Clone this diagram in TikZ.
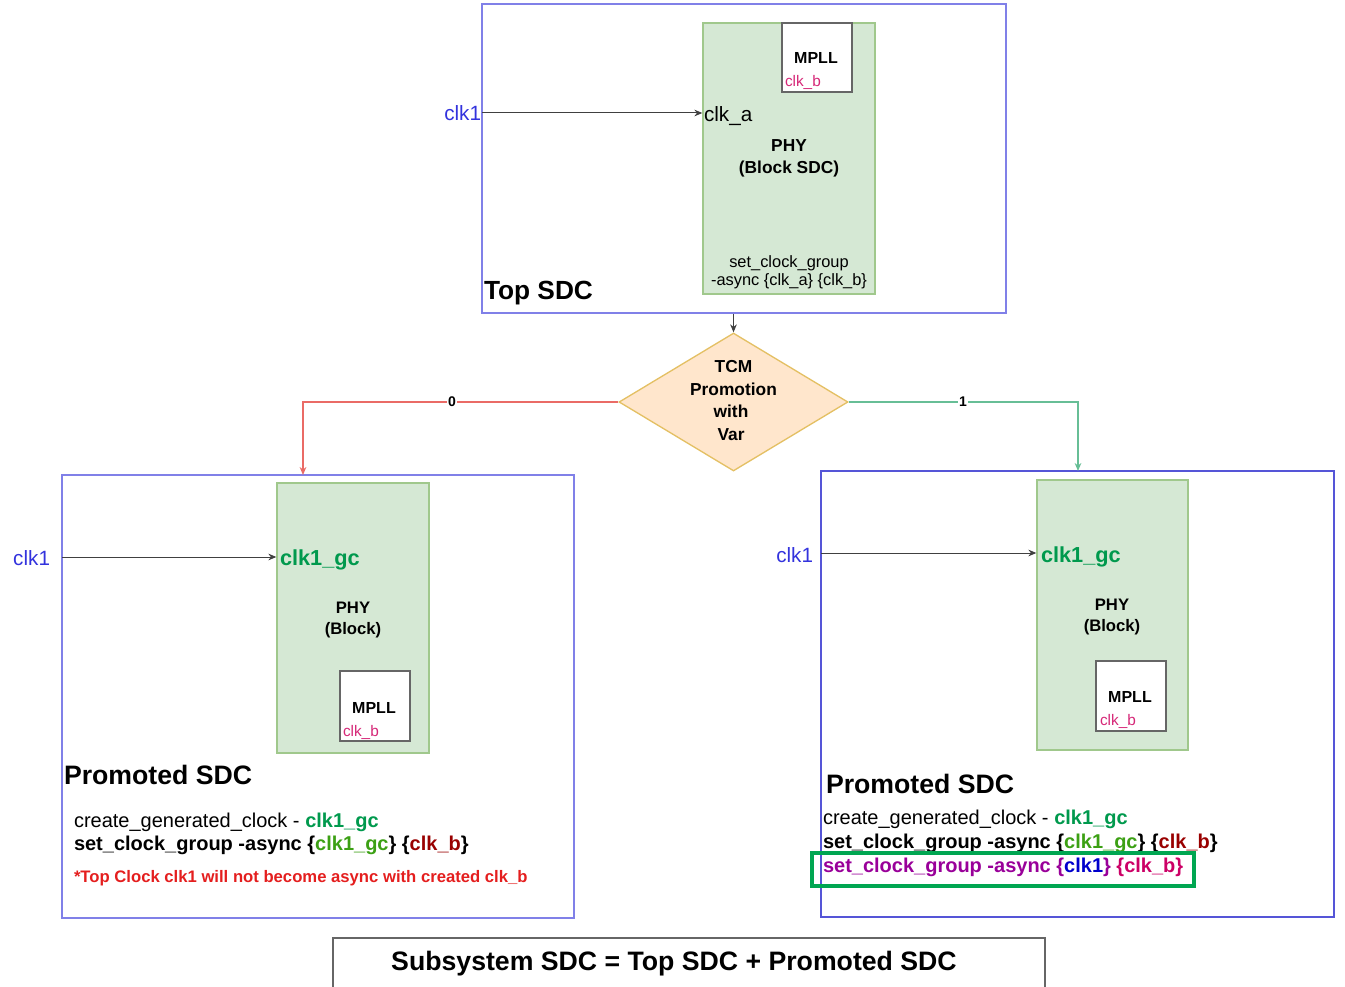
\documentclass[tikz,border=0pt]{standalone}
\usepackage{fontspec}
\setmainfont{Liberation Sans}
\usetikzlibrary{shapes.geometric,arrows.meta}

\definecolor{frameblue}{RGB}{128,128,232}
\definecolor{framebluedark}{RGB}{85,85,215}
\definecolor{phyfill}{RGB}{213,232,212}
\definecolor{phyline}{RGB}{160,200,140}
\definecolor{decfill}{RGB}{255,230,204}
\definecolor{decline}{RGB}{228,192,100}
\definecolor{clkblue}{RGB}{51,51,221}
\definecolor{clkpink}{RGB}{214,40,120}
\definecolor{gcgreen}{RGB}{0,153,77}
\definecolor{gclime}{RGB}{60,160,20}
\definecolor{darkred}{RGB}{153,0,0}
\definecolor{asyncpurple}{RGB}{153,0,153}
\definecolor{asyncblue}{RGB}{0,0,204}
\definecolor{asyncpink}{RGB}{204,0,102}
\definecolor{notered}{RGB}{228,30,30}
\definecolor{edgered}{RGB}{234,107,102}
\definecolor{edgegreen}{RGB}{103,190,150}
\definecolor{hilite}{RGB}{0,166,81}

\tikzset{
  sdcframe/.style={draw=frameblue, line width=1.2pt, rectangle, inner sep=0pt},
  phybox/.style={draw=phyline, fill=phyfill, line width=1pt, rectangle, inner sep=0pt},
  pllbox/.style={draw=black!60, fill=white, line width=1pt, rectangle, inner sep=0pt},
  txt/.style={inner sep=0pt, outer sep=0pt},
  wire/.style={draw=black!75, line width=0.75pt, -{Stealth[length=6pt,width=5pt]}},
  branchlbl/.style={txt, fill=white, inner sep=1pt, font=\bfseries\fontsize{10.5}{12}\selectfont},
}

\begin{document}
\begin{tikzpicture}[x=0.75pt, y=-0.75pt]
\useasboundingbox (0,0) rectangle (1345,987);

% ---------------- Top SDC ----------------
\node[sdcframe, minimum width=524*0.75pt, minimum height=309*0.75pt] (topsdc) at (744,158.5) {};
\node[phybox, minimum width=172*0.75pt, minimum height=271*0.75pt] (phyT) at (789,158.5) {};
\node[pllbox, minimum width=70*0.75pt, minimum height=69*0.75pt] (pllT) at (817,57.5) {};
\node[txt, anchor=base, font=\bfseries\fontsize{12}{14}\selectfont] (pllTt) at (816,64) {MPLL};
\node[txt, anchor=base west, text=clkpink, font=\fontsize{11.5}{14}\selectfont] (clkbT) at (785,87) {clk\_b};
\node[txt, anchor=base east, text=clkblue, font=\fontsize{15.5}{18}\selectfont] (clk1T) at (481,121) {clk1};
\node[txt, anchor=base west, font=\fontsize{15.5}{18}\selectfont] (clkaT) at (704,122) {clk\_a};
\node[txt, anchor=base, font=\bfseries\fontsize{13}{16}\selectfont] (phyTt1) at (789,152) {PHY};
\node[txt, anchor=base, font=\bfseries\fontsize{13}{16}\selectfont] (phyTt2) at (789,174) {(Block SDC)};
\node[txt, anchor=base, font=\fontsize{12.3}{14}\selectfont] (scgT1) at (789,268) {set\_clock\_group};
\node[txt, anchor=base, font=\fontsize{12.3}{14}\selectfont] (scgT2) at (789,286) {-async \{clk\_a\} \{clk\_b\}};
\node[txt, anchor=base west, font=\bfseries\fontsize{19.7}{22}\selectfont] (topT) at (484,300) {Top SDC};
\coordinate (inT) at (482,113);
\draw[wire] (inT) -- (inT -| phyT.west);

% ---------------- decision ----------------
\node[diamond, draw=decline, fill=decfill, line width=1pt, inner sep=0pt,
      minimum width=229*0.75pt, minimum height=138*0.75pt] (dec) at (733.5,402) {};
\node[txt, anchor=base, font=\bfseries\fontsize{13}{16}\selectfont] at (733.5,373) {TCM};
\node[txt, anchor=base, font=\bfseries\fontsize{13}{16}\selectfont] at (733.5,395) {Promotion};
\node[txt, anchor=base, font=\bfseries\fontsize{13}{16}\selectfont] at (731,417) {with};
\node[txt, anchor=base, font=\bfseries\fontsize{13}{16}\selectfont] at (731,440) {Var};
\draw[wire] (dec.north |- topsdc.south) -- (dec.north);

% ---------------- Promoted SDC, branch 0 ----------------
\node[sdcframe, minimum width=512*0.75pt, minimum height=443*0.75pt] (leftsdc) at (318,696.5) {};
\node[phybox, minimum width=152*0.75pt, minimum height=270*0.75pt] (phyL) at (353,618) {};
\node[pllbox, minimum width=70*0.75pt, minimum height=70*0.75pt] (pllL) at (375,706) {};
\node[txt, anchor=base, font=\bfseries\fontsize{12}{14}\selectfont] (pllLt) at (374,713) {MPLL};
\node[txt, anchor=base west, text=clkpink, font=\fontsize{11.5}{14}\selectfont] (clkbL) at (343,736) {clk\_b};
\node[txt, anchor=base east, text=clkblue, font=\fontsize{15.5}{18}\selectfont] (clk1L) at (50,565) {clk1};
\node[txt, anchor=base west, text=gcgreen, font=\bfseries\fontsize{16.3}{18}\selectfont] (gcL) at (280,565) {clk1\_gc};
\node[txt, anchor=base, font=\bfseries\fontsize{12.5}{15}\selectfont] at (353,613) {PHY};
\node[txt, anchor=base, font=\bfseries\fontsize{12.5}{15}\selectfont] at (353,634) {(Block)};
\node[txt, anchor=base west, font=\bfseries\fontsize{20}{22}\selectfont] (promL) at (64,784) {Promoted SDC};
\node[txt, anchor=base west, font=\fontsize{15}{17}\selectfont] (cgcL) at (74,827)
  {create\_generated\_clock - \textcolor{gcgreen}{\bfseries clk1\_gc}};
\node[txt, anchor=base west, font=\bfseries\fontsize{15}{17}\selectfont] (scgL) at (74,850)
  {set\_clock\_group -async \{\textcolor{gclime}{clk1\_gc}\} \{\textcolor{darkred}{clk\_b}\}};
\node[txt, anchor=base west, text=notered, font=\bfseries\fontsize{12.5}{14}\selectfont] (noteL) at (74,882)
  {*Top Clock clk1 will not become async with created clk\_b};
\coordinate (inL) at (62,557);
\draw[wire] (inL) -- (inL -| phyL.west);

% ---------------- Promoted SDC, branch 1 ----------------
\node[sdcframe, draw=framebluedark, minimum width=513*0.75pt, minimum height=446*0.75pt] (rightsdc) at (1077.5,694) {};
\node[phybox, minimum width=151*0.75pt, minimum height=270*0.75pt] (phyR) at (1112.5,615) {};
\node[pllbox, minimum width=70*0.75pt, minimum height=70*0.75pt] (pllR) at (1131,696) {};
\node[txt, anchor=base, font=\bfseries\fontsize{12}{14}\selectfont] (pllRt) at (1130,702) {MPLL};
\node[txt, anchor=base west, text=clkpink, font=\fontsize{11.5}{14}\selectfont] (clkbR) at (1100,725) {clk\_b};
\node[txt, anchor=base east, text=clkblue, font=\fontsize{15.5}{18}\selectfont] (clk1R) at (813,562) {clk1};
\node[txt, anchor=base west, text=gcgreen, font=\bfseries\fontsize{16.3}{18}\selectfont] (gcR) at (1041,562) {clk1\_gc};
\node[txt, anchor=base, font=\bfseries\fontsize{12.5}{15}\selectfont] at (1112,610) {PHY};
\node[txt, anchor=base, font=\bfseries\fontsize{12.5}{15}\selectfont] at (1112,631) {(Block)};
\node[txt, anchor=base west, font=\bfseries\fontsize{20}{22}\selectfont] (promR) at (826,793) {Promoted SDC};
\node[txt, anchor=base west, font=\fontsize{15}{17}\selectfont] (cgcR) at (823,824)
  {create\_generated\_clock - \textcolor{gcgreen}{\bfseries clk1\_gc}};
\node[txt, anchor=base west, font=\bfseries\fontsize{15}{17}\selectfont] (scgR) at (823,848)
  {set\_clock\_group -async \{\textcolor{gclime}{clk1\_gc}\} \{\textcolor{darkred}{clk\_b}\}};
\node[txt, anchor=base west, text=asyncpurple, font=\bfseries\fontsize{15}{17}\selectfont] (scgR2) at (823,872)
  {set\_clock\_group -async \{\textcolor{asyncblue}{clk1}\} \textcolor{asyncpink}{\{clk\_b\}}};
\node[draw=hilite, line width=2.7pt, rectangle, inner sep=0pt,
      minimum width=382*0.75pt, minimum height=33*0.75pt] (hl) at (1003,869.5) {};
\coordinate (inR) at (821,553);
\draw[wire] (inR) -- (inR -| phyR.west);

% ---------------- decision branches ----------------
\coordinate (toL) at (303,475);
\coordinate (toR) at (1078,471);
\draw[draw=edgered, line width=0.9pt, -{Stealth[length=6pt,width=5pt,fill=red!80!black]}] (dec.west) -| (toL);
\draw[draw=edgegreen, line width=0.9pt, -{Stealth[length=6pt,width=5pt,fill=edgegreen]}] (dec.east) -| (toR);
\node[branchlbl] (lbl0) at (452,402) {0};
\node[branchlbl] (lbl1) at (963,402) {1};

% ---------------- summary ----------------
\node[draw=black!60, line width=1pt, rectangle, inner sep=0pt,
      minimum width=712*0.75pt, minimum height=80*0.75pt] (sumbox) at (689,978) {};
\node[txt, anchor=base, font=\bfseries\fontsize{20}{22}\selectfont] (sumtxt) at (674,970)
  {Subsystem SDC = Top SDC + Promoted SDC};
\end{tikzpicture}
\end{document}
